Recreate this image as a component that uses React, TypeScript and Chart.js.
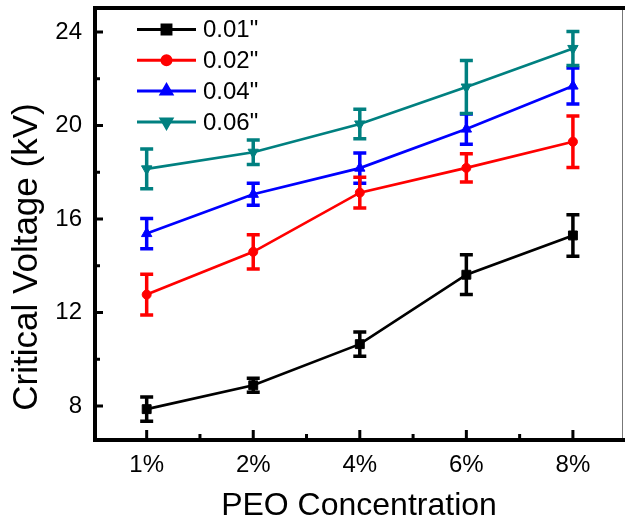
import React, { useEffect, useRef } from 'react';
import { Chart, registerables } from 'chart.js';
import { drawPoint } from 'chart.js/helpers';

Chart.register(...registerables);

const categories = ['1%', '2%', '4%', '6%', '8%'];
const seriesLabels = ['0.01"', '0.02"', '0.04"', '0.06"'];

const values001 = [7.87, 8.89, 10.65, 13.62, 15.3];
const errors001 = [0.52, 0.3, 0.52, 0.85, 0.89];
const values002 = [12.77, 14.6, 17.13, 18.19, 19.31];
const errors002 = [0.87, 0.73, 0.66, 0.6, 1.1];
const values004 = [15.38, 17.06, 18.18, 19.85, 21.69];
const errors004 = [0.65, 0.47, 0.65, 0.65, 0.77];
const values006 = [18.15, 18.86, 20.07, 21.65, 23.3];
const errors006 = [0.85, 0.52, 0.63, 1.13, 0.73];

const yMajorTicks = [8, 12, 16, 20, 24];
const yMinorTicks = [10, 14, 18, 22];

const xTitle = 'PEO Concentration';
const yTitle = 'Critical Voltage (kV)';

const FONT = "'Liberation Sans', Arial, Helvetica, sans-serif";

const seriesColors = ['#000000', '#ff0000', '#0000ff', '#008080'];
const seriesStyles: any[] = ['rect', 'circle', 'triangle', 'triangle'];
const seriesRotations = [0, 0, 0, 180];
const seriesRadius = [6.3, 4.5, 6, 6];

const errorBarPlugin = {
  id: 'errorBars',
  afterDatasetsDraw(chart: any) {
    const { ctx, scales } = chart;
    const y = scales.y;
    const order = [0, 2, 1, 3];
    ctx.save();
    for (const i of order) {
      const ds = chart.data.datasets[i];
      const meta = chart.getDatasetMeta(i);
      ctx.strokeStyle = ds.borderColor;
      ctx.lineWidth = 3.5;
      ctx.lineCap = 'butt';
      meta.data.forEach((pt: any, j: number) => {
        const v = ds.data[j].y;
        const e = ds.errors[j];
        const yt = y.getPixelForValue(v + e);
        const yb = y.getPixelForValue(v - e);
        const px = pt.x;
        ctx.beginPath();
        ctx.moveTo(px, yt);
        ctx.lineTo(px, yb);
        ctx.moveTo(px - 6.5, yt);
        ctx.lineTo(px + 6.5, yt);
        ctx.moveTo(px - 6.5, yb);
        ctx.lineTo(px + 6.5, yb);
        ctx.stroke();
      });
    }
    ctx.restore();
  },
};

const framePlugin = {
  id: 'frame',
  afterDraw(chart: any) {
    const { ctx, chartArea, scales } = chart;
    const { left, right, top, bottom } = chartArea;
    const x = scales.x;
    const y = scales.y;
    ctx.save();
    ctx.strokeStyle = '#777777';
    ctx.lineWidth = 1;
    ctx.beginPath();
    ctx.moveTo(right - 0.5, top);
    ctx.lineTo(right - 0.5, bottom);
    ctx.stroke();
    ctx.strokeStyle = '#000000';
    ctx.lineWidth = 4;
    ctx.lineCap = 'square';
    ctx.beginPath();
    ctx.moveTo(right, top);
    ctx.lineTo(left, top);
    ctx.lineTo(left, bottom);
    ctx.lineTo(right, bottom);
    ctx.stroke();
    ctx.lineCap = 'butt';
    ctx.lineWidth = 3;
    ctx.beginPath();
    categories.forEach((_, i) => {
      const px = x.getPixelForValue(i + 1);
      ctx.moveTo(px, bottom);
      ctx.lineTo(px, bottom - 10);
      if (i < categories.length - 1) {
        const pm = x.getPixelForValue(i + 1.5);
        ctx.moveTo(pm, bottom);
        ctx.lineTo(pm, bottom - 6);
      }
    });
    yMajorTicks.forEach((v) => {
      const py = y.getPixelForValue(v);
      ctx.moveTo(left, py);
      ctx.lineTo(left + 8, py);
    });
    yMinorTicks.forEach((v) => {
      const py = y.getPixelForValue(v);
      ctx.moveTo(left, py);
      ctx.lineTo(left + 5, py);
    });
    ctx.stroke();

    ctx.fillStyle = '#000000';
    ctx.font = `35px ${FONT}`;
    ctx.textAlign = 'center';
    ctx.textBaseline = 'middle';
    ctx.translate(27, 257);
    ctx.rotate(-Math.PI / 2);
    ctx.fillText(yTitle, 0, 0);
    ctx.restore();
  },
};

const legendPlugin = {
  id: 'customLegend',
  afterDraw(chart: any) {
    const { ctx } = chart;
    ctx.save();
    chart.data.datasets.forEach((ds: any, i: number) => {
      const cy = 29.5 + i * 30.8;
      ctx.strokeStyle = ds.borderColor;
      ctx.fillStyle = ds.borderColor;
      ctx.lineWidth = 3;
      ctx.beginPath();
      ctx.moveTo(137, cy);
      ctx.lineTo(196, cy);
      ctx.stroke();
      drawPoint(
        ctx,
        {
          pointStyle: ds.pointStyle,
          radius: ds.pointRadius,
          rotation: ds.pointRotation,
          borderWidth: 1,
        } as any,
        166.5,
        cy
      );
      ctx.fillStyle = '#000000';
      ctx.font = `24px ${FONT}`;
      ctx.textAlign = 'left';
      ctx.textBaseline = 'middle';
      ctx.fillText(ds.label, 203, cy + 1);
    });
    ctx.restore();
  },
};

export default function App() {
  const canvasRef = useRef<HTMLCanvasElement | null>(null);

  useEffect(() => {
    if (!canvasRef.current) return;
    const valueSets = [values001, values002, values004, values006];
    const errorSets = [errors001, errors002, errors004, errors006];
    const chart = new Chart(canvasRef.current, {
      type: 'line',
      data: {
        datasets: seriesLabels.map((label, i) => ({
          label,
          data: valueSets[i].map((v, j) => ({ x: j + 1, y: v })),
          errors: errorSets[i],
          borderColor: seriesColors[i],
          backgroundColor: seriesColors[i],
          pointBackgroundColor: seriesColors[i],
          pointBorderColor: seriesColors[i],
          pointStyle: seriesStyles[i],
          pointRotation: seriesRotations[i],
          pointRadius: seriesRadius[i],
          pointBorderWidth: 1,
          borderWidth: 2.7,
          tension: 0,
          fill: false,
        })) as any,
      },
      options: {
        animation: false,
        responsive: false,
        devicePixelRatio: 1,
        layout: { autoPadding: false, padding: { top: 8, right: 2, left: 0, bottom: 0 } },
        plugins: {
          legend: { display: false },
          tooltip: { enabled: false },
        },
        scales: {
          x: {
            type: 'linear',
            min: 0.515,
            max: 5.47,
            grid: { display: false, drawTicks: false },
            border: { display: false },
            afterBuildTicks(scale: any) {
              scale.ticks = categories.map((_, i) => ({ value: i + 1 }));
            },
            ticks: {
              color: '#000000',
              padding: 11,
              font: { family: FONT, size: 24 },
              maxRotation: 0,
              autoSkip: false,
              callback: (v: any) => categories[Math.round(v) - 1] ?? '',
            },
            title: {
              display: true,
              text: xTitle,
              color: '#000000',
              font: { family: FONT, size: 32, lineHeight: 1 },
              padding: { top: 0, bottom: 1 },
            },
            afterFit(scale: any) {
              scale.height = 83;
              scale.paddingLeft = 0;
              scale.paddingRight = 0;
            },
          },
          y: {
            type: 'linear',
            min: 6.55,
            max: 25.03,
            grid: { display: false, drawTicks: false },
            border: { display: false },
            ticks: {
              color: '#000000',
              padding: 13,
              font: { family: FONT, size: 24 },
            },
            afterBuildTicks(scale: any) {
              scale.ticks = yMajorTicks.map((v) => ({ value: v }));
            },
            title: { display: false },
            afterFit(scale: any) {
              scale.width = 95;
              scale.paddingTop = 0;
              scale.paddingBottom = 0;
            },
          },
        },
      } as any,
      plugins: [errorBarPlugin, framePlugin, legendPlugin],
    });
    return () => chart.destroy();
  }, []);

  return (
    <div
      style={{
        position: 'absolute',
        left: 0,
        top: 0,
        width: 625,
        height: 523,
        background: '#ffffff',
      }}
    >
      <canvas ref={canvasRef} width={625} height={523} />
    </div>
  );
}
